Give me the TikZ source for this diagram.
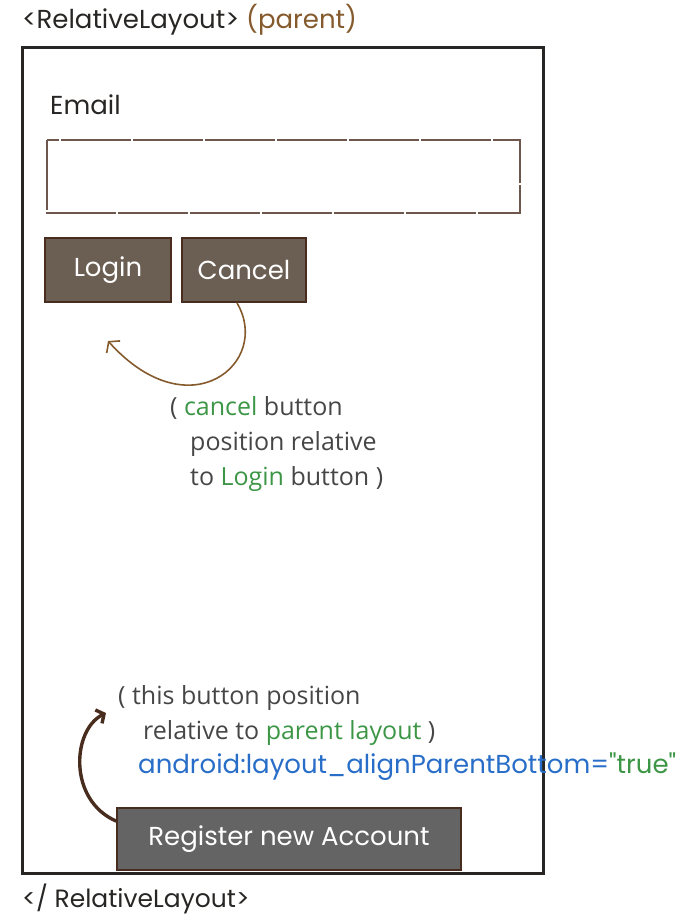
\documentclass[tikz,border=0pt]{standalone}
\usepackage{fontspec}
\setmainfont{Open Sans}
\newfontfamily\handfont{Poppins}
\usepackage{xcolor}
\definecolor{Col1}{RGB}{40,38,36}
\definecolor{Col2}{RGB}{107,94,82}
\definecolor{Col3}{RGB}{72,44,30}
\definecolor{Col4}{RGB}{100,100,100}
\definecolor{Col5}{RGB}{133,90,45}
\definecolor{Col6}{RGB}{70,70,70}
\definecolor{Col7}{RGB}{60,150,70}
\definecolor{Col8}{RGB}{40,110,200}
\usepackage{tikz}
\usetikzlibrary{arrows.meta}
\tikzstyle{Frame}=[draw=Col1,line width=3pt]
\tikzstyle{Field}=[draw=Col3!80,line width=2pt,dash pattern=on 70pt off 2pt]
\tikzstyle{Button}=[rectangle,draw=Col3,fill=Col2,line width=2pt,text=white,
font=\handfont\fontsize{26}{30}\selectfont,inner sep=0pt]
\tikzstyle{NodeHand}=[anchor=west,inner sep=0pt,text=Col1,font=\handfont\fontsize{26}{30}\selectfont]
\tikzstyle{NodeNote}=[anchor=north west,inner sep=0pt,text=Col6,align=left,
font=\fontsize{25}{35}\selectfont]
\tikzstyle{Edge}=[draw=Col5,line width=1.6pt,cap=round,-{Straight Barb[length=7pt,width=18pt]}]
\tikzstyle{EdgeThick}=[draw=Col3,line width=3.4pt,cap=round,-{Straight Barb[length=6pt,width=15pt]}]

\begin{document}
\begin{tikzpicture}[x=1pt,y=-1pt]
    \useasboundingbox (0,0) rectangle (690,919);
    % layout frame and labels
    \node[NodeHand](open)at(22,20){\textless RelativeLayout\textgreater\ \textcolor{Col5}{(parent)}};
    \draw[Frame](22,47) rectangle (543,873);
    \node[NodeHand](email)at(50,105){Email};
    \draw[Field](47,140) rectangle (520,213);
    % buttons
    \node[Button,minimum width=126pt,minimum height=64pt](login)at(108,270){Login};
    \node[Button,minimum width=124pt,minimum height=64pt](cancel)at(244,270){Cancel};
    \coordinate(tip)at(108,341);
    \draw[Edge]([xshift=-7pt]cancel.south) .. controls (272,362) and (190,432) .. (tip);
    \node[NodeNote](note1)at(170,396){( \textcolor{Col7}{cancel} button\\
        \hspace*{20pt}position relative\\
        \hspace*{20pt}to \textcolor{Col7}{Login} button )};
    % bottom button
    \node[NodeNote](note2)at(118,685){( this button position\\
        \hspace*{25pt}relative to \textcolor{Col7}{parent layout} )};
    \node[NodeHand,text=Col8](attr)at(138,767){android:layout\_alignParentBottom=\textcolor{Col7}{"true"}};
    \node[Button,fill=Col4,minimum width=344pt,minimum height=62pt](register)at(289,839){Register new Account};
    \coordinate(tip2)at(106,713);
    \draw[EdgeThick]([yshift=-14pt]register.north west) .. controls (68,800) and (72,730) .. (tip2);
    \node[NodeHand,font=\handfont\fontsize{25}{30}\selectfont](close)at(22,899){\textless/ RelativeLayout\textgreater};
\end{tikzpicture}
\end{document}
